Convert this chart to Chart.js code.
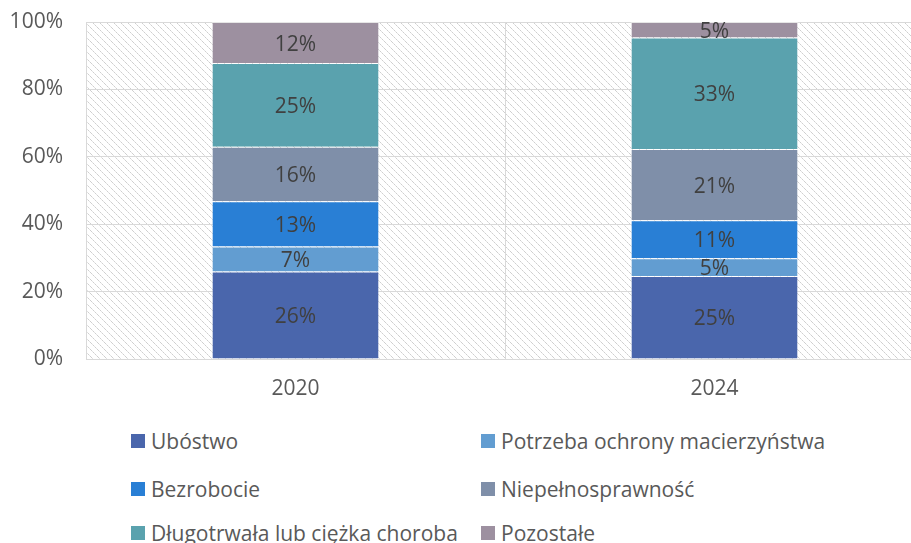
<!DOCTYPE html>
<html>
<head>
<meta charset="utf-8">
<script src="https://cdn.jsdelivr.net/npm/chart.js@4.4.1/dist/chart.umd.min.js"></script>
<style>
    body { margin: 0; background: #fff; overflow: hidden; width: 911px; height: 543px; font-family: "Open Sans", sans-serif; }
    #chartBox { position: absolute; left: 0; top: 0; width: 924px; height: 411px; }
    .legendItem { position: absolute; height: 28px; line-height: 28px; font-size: 21px; color: #595959; white-space: nowrap; display: flex; align-items: center; }
    .legendBox { width: 14px; height: 14px; margin-right: 6px; }
</style>
</head>
<body>
<div id="chartBox"><canvas id="reasonChart"></canvas></div>
<div id="legend"></div>

<script>
const years = ['2020', '2024'];
const seriesNames = ['Ubóstwo', 'Potrzeba ochrony macierzyństwa', 'Bezrobocie', 'Niepełnosprawność', 'Długotrwała lub ciężka choroba', 'Pozostałe'];
const ubostwo = [26.0, 24.6];
const macierzynstwo = [7.4, 5.3];
const bezrobocie = [13.4, 11.3];
const niepelnosprawnosc = [16.2, 21.1];
const choroba = [24.8, 33.1];
const pozostale = [12.2, 4.6];
const yTicks = [0, 20, 40, 60, 80, 100];

const seriesValues = [ubostwo, macierzynstwo, bezrobocie, niepelnosprawnosc, choroba, pozostale];
const colors = ['#4A66AC', '#629DD1', '#297FD5', '#7F8FA9', '#5AA2AE', '#9D90A0'];

Chart.defaults.font.family = '"Open Sans", sans-serif';

// light diagonal hatch behind the bars
function makeHatch() {
    const tile = document.createElement('canvas');
    tile.width = 7;
    tile.height = 7;
    const tctx = tile.getContext('2d');
    tctx.fillStyle = '#ffffff';
    tctx.fillRect(0, 0, 7, 7);
    for (let i = 0; i < 7; i++) {
        tctx.fillStyle = (i % 2 === 0) ? '#cfcfcf' : '#e2e2e2';
        tctx.fillRect(i, i, 1, 1);
    }
    return tile;
}

const hatchPlugin = {
    id: 'hatch',
    beforeDraw(chart) {
        const area = chart.chartArea;
        const ctx = chart.ctx;
        ctx.save();
        ctx.fillStyle = ctx.createPattern(makeHatch(), 'repeat');
        ctx.fillRect(area.left, area.top, area.right - area.left, area.bottom - area.top);
        ctx.restore();
    }
};

// percentage written in the middle of every segment
const valueLabels = {
    id: 'valueLabels',
    afterDatasetsDraw(chart) {
        const ctx = chart.ctx;
        ctx.save();
        ctx.font = '21px "Open Sans", sans-serif';
        ctx.fillStyle = '#404040';
        ctx.textAlign = 'center';
        ctx.textBaseline = 'middle';
        chart.data.datasets.forEach((ds, i) => {
            chart.getDatasetMeta(i).data.forEach((bar, j) => {
                ctx.fillText(Math.round(ds.data[j]) + '%', bar.x, (bar.y + bar.base) / 2 + 2);
            });
        });
        ctx.restore();
    }
};

const datasets = seriesNames.map((name, i) => ({
    label: name,
    data: seriesValues[i],
    backgroundColor: colors[i],
    borderColor: 'rgba(255,255,255,0.35)',
    borderWidth: 1,
    barPercentage: 0.4,
    categoryPercentage: 1
}));

new Chart(document.getElementById('reasonChart'), {
    type: 'bar',
    data: { labels: years, datasets: datasets },
    options: {
        responsive: true,
        maintainAspectRatio: false,
        animation: false,
        layout: { padding: { top: 22, left: 0, right: 0, bottom: 0 } },
        plugins: { legend: { display: false }, tooltip: { enabled: false } },
        scales: {
            x: {
                stacked: true,
                grid: { color: '#d9d9d9', lineWidth: 1, drawTicks: false, offset: true },
                border: { color: '#d9d9d9' },
                ticks: { color: '#595959', font: { size: 21 }, padding: 17 },
                afterFit: s => { s.height = 52; }
            },
            y: {
                stacked: true,
                min: 0,
                max: 100,
                afterBuildTicks: s => { s.ticks = yTicks.map(v => ({ value: v })); },
                grid: { color: '#d9d9d9', lineWidth: 1, drawTicks: false },
                border: { color: '#d9d9d9' },
                ticks: { color: '#595959', font: { size: 21 }, padding: 23, callback: v => v + '%' },
                afterFit: s => { s.width = 86; s.paddingTop = 0; s.paddingBottom = 0; }
            }
        }
    },
    plugins: [hatchPlugin, valueLabels]
});

// two-column legend under the chart
const legendCols = [131, 481];
const legendRows = [441, 489, 533];
const legend = document.getElementById('legend');
seriesNames.forEach((name, i) => {
    const item = document.createElement('div');
    item.className = 'legendItem';
    item.style.left = legendCols[i % 2] + 'px';
    item.style.top = (legendRows[Math.floor(i / 2)] - 14) + 'px';
    item.innerHTML = '<span class="legendBox" style="background:' + colors[i] + '"></span>' + name;
    legend.appendChild(item);
});
</script>
</body>
</html>
